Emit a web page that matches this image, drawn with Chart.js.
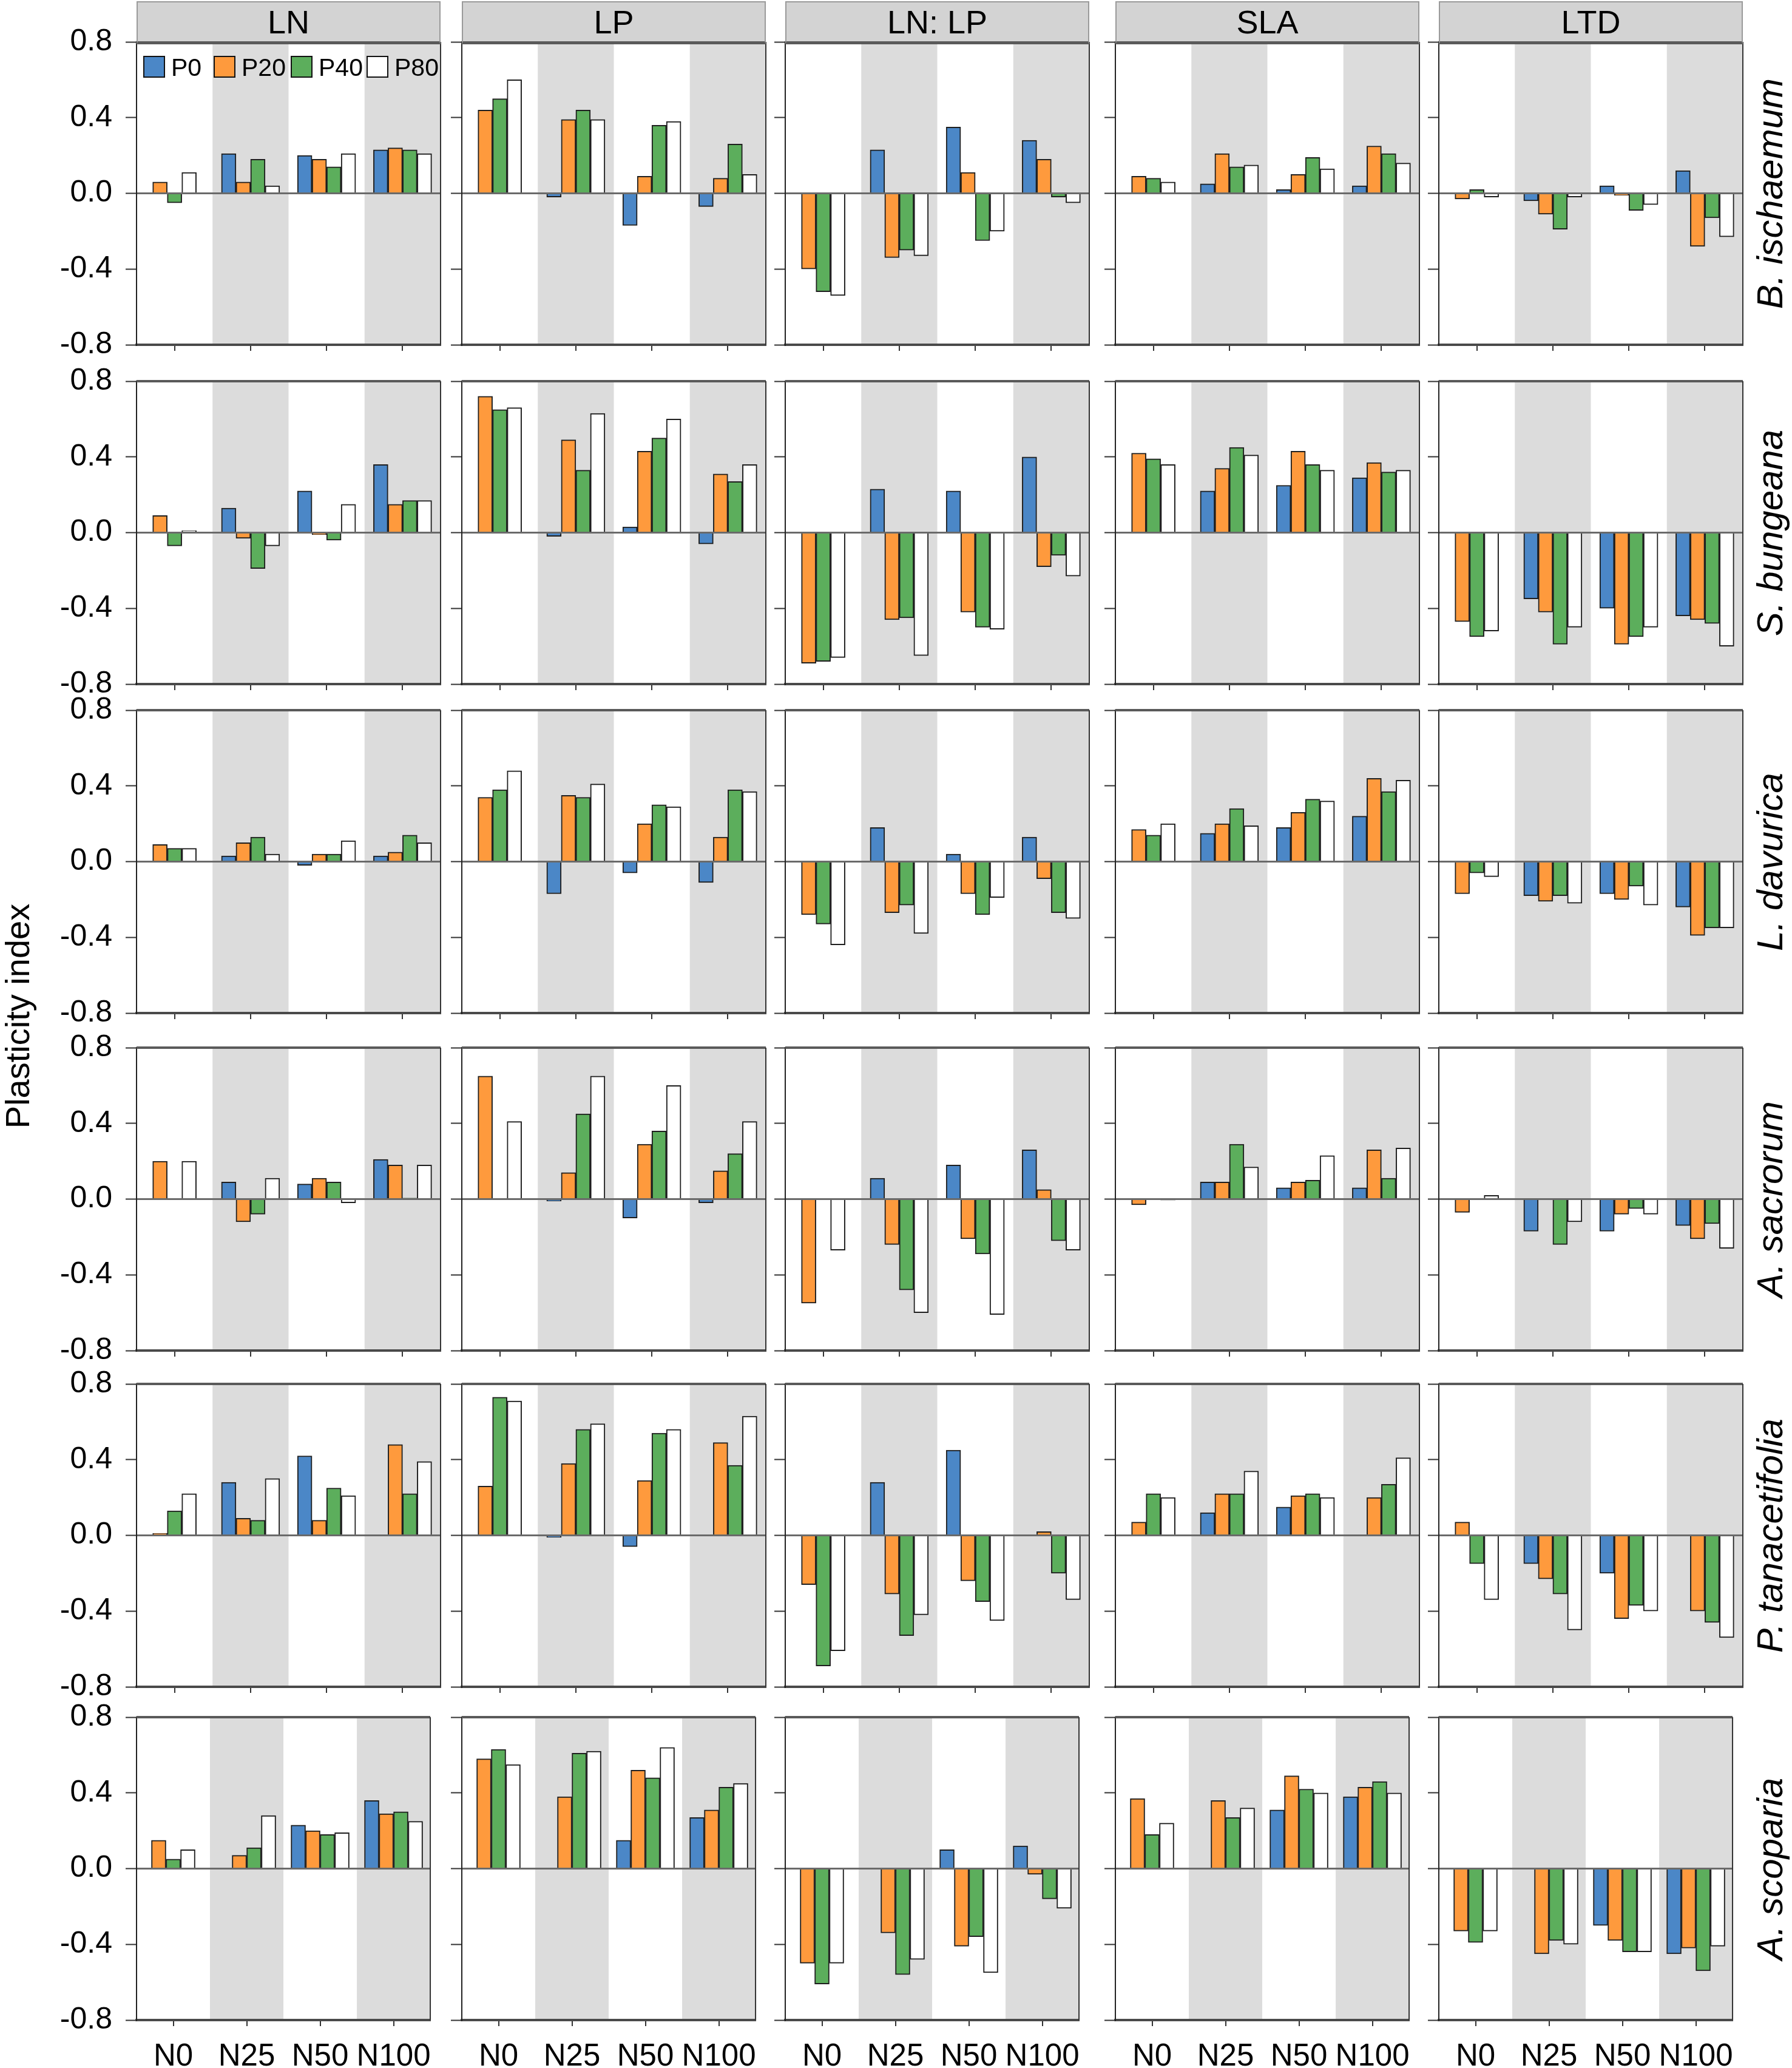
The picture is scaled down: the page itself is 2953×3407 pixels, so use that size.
<!DOCTYPE html>
<html>
<head>
<meta charset="utf-8">
<script src="https://cdn.jsdelivr.net/npm/chart.js@4.4.1/dist/chart.umd.min.js"></script>
<style>
  html, body { margin: 0; padding: 0; background: #fff; }
  body {
    position: relative; width: 2953px; height: 3407px; overflow: hidden;
    font-family: "Liberation Sans", Arial, sans-serif; color: #000;
  }
  .panel { position: absolute; }
  .head {
    position: absolute; box-sizing: border-box; background: #d3d3d3;
    border: 2px solid #9a9a9a; border-bottom: 5px solid #5a5a5a;
    text-align: center; font-size: 54px; line-height: 64px;
  }
  .species {
    position: absolute; font-size: 60px; font-style: italic; white-space: nowrap;
    transform: translate(-50%, -50%) rotate(-90deg);
  }
  .ytitle {
    position: absolute; font-size: 56px; white-space: nowrap;
    transform: translate(-50%, -50%) rotate(-90deg);
  }
  .key { position: absolute; box-sizing: border-box; width: 36px; height: 36px; border: 2px solid #111; }
  .keytxt { position: absolute; font-size: 41px; line-height: 36px; }
</style>
</head>
<body>
<script>
// ---- DATA ----
const nLevels = ["N0", "N25", "N50", "N100"];
const pLevels = ["P0", "P20", "P40", "P80"];
const traits = ["LN", "LP", "LN: LP", "SLA", "LTD"];
const species = ["B. ischaemum", "S. bungeana", "L. davurica", "A. sacrorum", "P. tanacetifolia", "A. scoparia"];
const yTicks = [-0.8, -0.4, 0, 0.4, 0.8];

// rows: P0, P20, P40, P80 ; columns: N0, N25, N50, N100
// N0-P0 is the reference treatment -> no bar (null)
const bisch_LN   = [[null, 0.21, 0.20, 0.23], [0.06, 0.06, 0.18, 0.24], [-0.05, 0.18, 0.14, 0.23], [0.11, 0.04, 0.21, 0.21]];
const bisch_LP   = [[null, -0.02, -0.17, -0.07], [0.44, 0.39, 0.09, 0.08], [0.50, 0.44, 0.36, 0.26], [0.60, 0.39, 0.38, 0.10]];
const bisch_LNLP = [[null, 0.23, 0.35, 0.28], [-0.40, -0.34, 0.11, 0.18], [-0.52, -0.30, -0.25, -0.02], [-0.54, -0.33, -0.20, -0.05]];
const bisch_SLA  = [[null, 0.05, 0.02, 0.04], [0.09, 0.21, 0.10, 0.25], [0.08, 0.14, 0.19, 0.21], [0.06, 0.15, 0.13, 0.16]];
const bisch_LTD  = [[null, -0.04, 0.04, 0.12], [-0.03, -0.11, -0.01, -0.28], [0.02, -0.19, -0.09, -0.13], [-0.02, -0.02, -0.06, -0.23]];

const sbung_LN   = [[null, 0.13, 0.22, 0.36], [0.09, -0.03, -0.01, 0.15], [-0.07, -0.19, -0.04, 0.17], [0.01, -0.07, 0.15, 0.17]];
const sbung_LP   = [[null, -0.02, 0.03, -0.06], [0.72, 0.49, 0.43, 0.31], [0.65, 0.33, 0.50, 0.27], [0.66, 0.63, 0.60, 0.36]];
const sbung_LNLP = [[null, 0.23, 0.22, 0.40], [-0.69, -0.46, -0.42, -0.18], [-0.68, -0.45, -0.50, -0.12], [-0.66, -0.65, -0.51, -0.23]];
const sbung_SLA  = [[null, 0.22, 0.25, 0.29], [0.42, 0.34, 0.43, 0.37], [0.39, 0.45, 0.36, 0.32], [0.36, 0.41, 0.33, 0.33]];
const sbung_LTD  = [[null, -0.35, -0.40, -0.44], [-0.47, -0.42, -0.59, -0.46], [-0.55, -0.59, -0.55, -0.48], [-0.52, -0.50, -0.50, -0.60]];

const ldav_LN    = [[null, 0.03, -0.02, 0.03], [0.09, 0.10, 0.04, 0.05], [0.07, 0.13, 0.04, 0.14], [0.07, 0.04, 0.11, 0.10]];
const ldav_LP    = [[null, -0.17, -0.06, -0.11], [0.34, 0.35, 0.20, 0.13], [0.38, 0.34, 0.30, 0.38], [0.48, 0.41, 0.29, 0.37]];
const ldav_LNLP  = [[null, 0.18, 0.04, 0.13], [-0.28, -0.27, -0.17, -0.09], [-0.33, -0.23, -0.28, -0.27], [-0.44, -0.38, -0.19, -0.30]];
const ldav_SLA   = [[null, 0.15, 0.18, 0.24], [0.17, 0.20, 0.26, 0.44], [0.14, 0.28, 0.33, 0.37], [0.20, 0.19, 0.32, 0.43]];
const ldav_LTD   = [[null, -0.18, -0.17, -0.24], [-0.17, -0.21, -0.20, -0.39], [-0.06, -0.18, -0.13, -0.35], [-0.08, -0.22, -0.23, -0.35]];

const asac_LN    = [[null, 0.09, 0.08, 0.21], [0.20, -0.12, 0.11, 0.18], [0, -0.08, 0.09, 0.005], [0.20, 0.11, -0.02, 0.18]];
const asac_LP    = [[null, -0.01, -0.10, -0.02], [0.65, 0.14, 0.29, 0.15], [0, 0.45, 0.36, 0.24], [0.41, 0.65, 0.60, 0.41]];
const asac_LNLP  = [[null, 0.11, 0.18, 0.26], [-0.55, -0.24, -0.21, 0.05], [0, -0.48, -0.29, -0.22], [-0.27, -0.60, -0.61, -0.27]];
const asac_SLA   = [[null, 0.09, 0.06, 0.06], [-0.03, 0.09, 0.09, 0.26], [0, 0.29, 0.10, 0.11], [-0.005, 0.17, 0.23, 0.27]];
const asac_LTD   = [[null, -0.17, -0.17, -0.14], [-0.07, 0, -0.08, -0.21], [0, -0.24, -0.05, -0.13], [0.02, -0.12, -0.08, -0.26]];

const ptan_LN    = [[null, 0.28, 0.42, 0], [0.01, 0.09, 0.08, 0.48], [0.13, 0.08, 0.25, 0.22], [0.22, 0.30, 0.21, 0.39]];
const ptan_LP    = [[null, -0.01, -0.06, 0], [0.26, 0.38, 0.29, 0.49], [0.73, 0.56, 0.54, 0.37], [0.71, 0.59, 0.56, 0.63]];
const ptan_LNLP  = [[null, 0.28, 0.45, 0], [-0.26, -0.31, -0.24, 0.02], [-0.69, -0.53, -0.35, -0.20], [-0.61, -0.42, -0.45, -0.34]];
const ptan_SLA   = [[null, 0.12, 0.15, 0], [0.07, 0.22, 0.21, 0.20], [0.22, 0.22, 0.22, 0.27], [0.20, 0.34, 0.20, 0.41]];
const ptan_LTD   = [[null, -0.15, -0.20, 0], [0.07, -0.23, -0.44, -0.40], [-0.15, -0.31, -0.37, -0.46], [-0.34, -0.50, -0.40, -0.54]];

const asco_LN    = [[null, 0, 0.23, 0.36], [0.15, 0.07, 0.20, 0.29], [0.05, 0.11, 0.18, 0.30], [0.10, 0.28, 0.19, 0.25]];
const asco_LP    = [[null, 0, 0.15, 0.27], [0.58, 0.38, 0.52, 0.31], [0.63, 0.61, 0.48, 0.43], [0.55, 0.62, 0.64, 0.45]];
const asco_LNLP  = [[null, 0, 0.10, 0.12], [-0.50, -0.34, -0.41, -0.03], [-0.61, -0.56, -0.36, -0.16], [-0.50, -0.48, -0.55, -0.21]];
const asco_SLA   = [[null, 0, 0.31, 0.38], [0.37, 0.36, 0.49, 0.43], [0.18, 0.27, 0.42, 0.46], [0.24, 0.32, 0.40, 0.40]];
const asco_LTD   = [[null, 0, -0.30, -0.45], [-0.33, -0.45, -0.38, -0.42], [-0.39, -0.38, -0.44, -0.54], [-0.33, -0.40, -0.44, -0.41]];

const panelData = [
  [bisch_LN, bisch_LP, bisch_LNLP, bisch_SLA, bisch_LTD],
  [sbung_LN, sbung_LP, sbung_LNLP, sbung_SLA, sbung_LTD],
  [ldav_LN, ldav_LP, ldav_LNLP, ldav_SLA, ldav_LTD],
  [asac_LN, asac_LP, asac_LNLP, asac_SLA, asac_LTD],
  [ptan_LN, ptan_LP, ptan_LNLP, ptan_SLA, ptan_LTD],
  [asco_LN, asco_LP, asco_LNLP, asco_SLA, asco_LTD],
];

// ---- LAYOUT ----
const seriesColors = ["#4b87c7", "#fe9a3d", "#5cae5c", "#ffffff"];
const colLeft = [225, 761, 1294, 1838, 2371];
const plotW = 501;
const rowTop = [69, 628, 1170, 1726, 2280, 2829];
const plotH = 499;
const padTop = 60; // must exceed half a tick label + tick padding
const padRight = 4;

Chart.defaults.font.family = '"Liberation Sans", Arial, sans-serif';
Chart.defaults.color = "#000";

// gray background behind N25 and N100
const shadeBands = {
  id: "shadeBands",
  beforeDraw(chart) {
    const { ctx, chartArea: { top, bottom, left, right }, scales: { x } } = chart;
    const half = (right - left) / nLevels.length / 2;
    ctx.save();
    ctx.fillStyle = "#dcdcdc";
    nLevels.forEach((n, i) => {
      if (i % 2 === 1) {
        const cx = x.getPixelForValue(i);
        ctx.fillRect(cx - half, top, half * 2, bottom - top);
      }
    });
    ctx.restore();
  },
};

// top and right edges of the panel box
const panelFrame = {
  id: "panelFrame",
  afterDraw(chart) {
    const { ctx, chartArea: { top, bottom, left, right } } = chart;
    ctx.save();
    ctx.strokeStyle = "#5a5a5a";
    ctx.lineWidth = 4;
    ctx.beginPath();
    ctx.moveTo(left, top);
    ctx.lineTo(right, top);
    ctx.stroke();
    ctx.strokeStyle = "#333";
    ctx.lineWidth = 2;
    ctx.beginPath();
    ctx.moveTo(right, top);
    ctx.lineTo(right, bottom);
    ctx.stroke();
    ctx.restore();
  },
};

function addDiv(cls, css, text) {
  const d = document.createElement("div");
  d.className = cls;
  Object.assign(d.style, css);
  if (text) d.textContent = text;
  document.body.appendChild(d);
  return d;
}

panelData.forEach((row, r) => {
  const lastRow = r === panelData.length - 1;
  row.forEach((vals, c) => {
    const yW = c === 0 ? 140 : 20;
    const xH = lastRow ? 78 : 12;
    const padBottom = lastRow ? 0 : 50;

    const box = addDiv("panel", {
      left: colLeft[c] - yW + "px",
      top: rowTop[r] - padTop + "px",
      width: yW + plotW + padRight + "px",
      height: padTop + plotH + xH + padBottom + "px",
    });
    const canvas = document.createElement("canvas");
    box.appendChild(canvas);

    new Chart(canvas, {
      type: "bar",
      data: {
        labels: nLevels,
        datasets: pLevels.map((p, i) => ({
          label: p,
          data: vals[i],
          backgroundColor: seriesColors[i],
          borderColor: "#1e1e1e",
          borderWidth: 2,
          barThickness: 24,
          skipNull: true, // N0 has only three bars, centred
        })),
      },
      options: {
        responsive: true,
        maintainAspectRatio: false,
        animation: false,
        devicePixelRatio: 1,
        layout: { padding: { top: padTop, right: padRight, left: 0, bottom: padBottom } },
        plugins: { legend: { display: false }, tooltip: { enabled: false } },
        scales: {
          x: {
            grid: { offset: false, drawOnChartArea: false, tickLength: 10, color: "#333", lineWidth: 2 },
            border: { color: "#4a4a4a", width: 4 },
            ticks: { display: lastRow, font: { size: 51 }, padding: 20, maxRotation: 0, minRotation: 0, autoSkip: false },
            afterFit: (s) => { s.height = xH; },
          },
          y: {
            min: -0.8,
            max: 0.8,
            afterBuildTicks: (s) => { s.ticks = yTicks.map((v) => ({ value: v })); },
            grid: {
              color: (ctx) => (ctx.tick && ctx.tick.value === 0 ? "#6a6a6a" : "transparent"),
              lineWidth: 3,
              tickColor: "#333",
              tickLength: 18,
              tickWidth: 2,
            },
            border: { color: "#222", width: 2 },
            ticks: { display: c === 0, font: { size: 50 }, padding: 22, callback: (v) => Number(v).toFixed(1) },
            afterFit: (s) => { s.width = yW; },
          },
        },
      },
      plugins: [shadeBands, panelFrame],
    });
  });

  addDiv("species", { left: "2916px", top: rowTop[r] + plotH / 2 + "px" }, species[r]);
});

// column headers
traits.forEach((t, c) => {
  addDiv("head", { left: colLeft[c] + "px", top: "2px", width: plotW + "px", height: "71px" }, t);
});

// axis title
addDiv("ytitle", { left: "28px", top: "1674px" }, "Plasticity index");

// legend inside the first panel
const keyLeft = [236, 352, 479, 604];
pLevels.forEach((p, i) => {
  addDiv("key", { left: keyLeft[i] + "px", top: "92px", background: seriesColors[i] });
  addDiv("keytxt", { left: keyLeft[i] + 46 + "px", top: "93px" }, p);
});
</script>
</body>
</html>
